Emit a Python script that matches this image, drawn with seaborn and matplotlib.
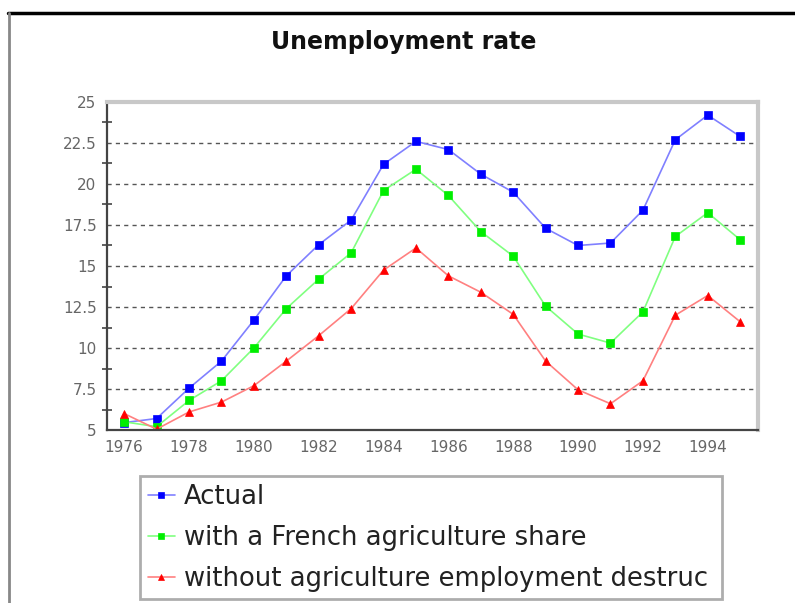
import pandas as pd
import seaborn as sns
import matplotlib.pyplot as plt
from matplotlib.lines import Line2D

# data
years = list(range(1976, 1996))
actual = [5.45, 5.7, 7.55, 9.2, 11.7, 14.4, 16.3, 17.8, 21.2, 22.6,
          22.1, 20.6, 19.5, 17.3, 16.25, 16.4, 18.4, 22.7, 24.2, 22.9]
french_share = [5.5, 5.2, 6.8, 8.0, 10.0, 12.4, 14.2, 15.8, 19.6, 20.9,
                19.3, 17.1, 15.6, 12.55, 10.85, 10.3, 12.2, 16.8, 18.25, 16.6]
no_destruction = [6.0, 5.05, 6.1, 6.7, 7.7, 9.2, 10.75, 12.4, 14.75, 16.1,
                  14.4, 13.4, 12.05, 9.2, 7.45, 6.6, 8.0, 12.0, 13.2, 11.6]
labels = ["Actual", "with a French agriculture share",
          "without agriculture employment destruc"]
yticks = [5, 7.5, 10, 12.5, 15, 17.5, 20, 22.5, 25]
ytick_labels = ["5", "7.5", "10", "12.5", "15", "17.5", "20", "22.5", "25"]
series = [actual, french_share, no_destruction]

line_colors = ["#8080ff", "#80ff80", "#ff8080"]
marker_colors = ["#0000ff", "#00ee00", "#ff0000"]
markers = ["s", "s", "^"]

sns.set_theme(style="white")
plt.rcParams["font.family"] = ["DejaVu Sans"]

fig = plt.figure(figsize=(7.95, 6.03), dpi=100)
fig.patch.set_facecolor("white")
ax = fig.add_axes([107/795, 1-430/603, 651/795, 328/603])

for vals, lab, lc, mc, mk in zip(series, labels, line_colors, marker_colors, markers):
  sns.lineplot(x=years, y=vals, ax=ax, color=lc, lw=1.2, label=lab,
               marker=mk, markersize=5.8, markerfacecolor=mc,
               markeredgecolor=mc, markeredgewidth=0.5)
if ax.get_legend() is not None:
  ax.get_legend().remove()

ax.set_xlim(1975.47, 1995.55)
ax.set_ylim(5, 25)
ax.set_xticks(years)
ax.set_xticklabels([str(y) if y % 2 == 0 else "" for y in years])
ax.set_yticks(yticks)
ax.set_yticklabels(ytick_labels)
ax.set_yticks([y + 1.25 for y in yticks[:-1]], minor=True)
ax.tick_params(axis="both", which="major", direction="inout", length=9, width=1.2,
               color="#444444", labelcolor="#666666", labelsize=11, pad=3)
ax.tick_params(axis="y", which="minor", direction="inout", length=7, width=1.2,
               color="#444444", left=True)
ax.set_xlabel("")
ax.set_ylabel("")
ax.yaxis.grid(True, which="major", linestyle=(0, (3, 3)), color="#555555", lw=1)
ax.set_axisbelow(True)
for s in ["left", "bottom"]:
  ax.spines[s].set_color("#444444")
  ax.spines[s].set_linewidth(1.6)
for s in ["top", "right"]:
  ax.spines[s].set_color("#c8c8c8")
  ax.spines[s].set_linewidth(3)

fig.text(404/795, 1-42/603, "Unemployment rate", ha="center", va="center",
         fontsize=17, fontweight="bold", color="#111111")

# legend below the plot
handles, labs = ax.get_legend_handles_labels()
leg = fig.legend(handles, labs, loc="upper left",
                 bbox_to_anchor=(140/795, 6/603, 582/795, (597-476)/603),
                 mode="expand", borderaxespad=0, fontsize=18.6,
                 handlelength=1.05, handletextpad=0.35, labelspacing=0.58,
                 borderpad=0.3, fancybox=False, frameon=True)
leg.get_frame().set_edgecolor("#999999")
leg.get_frame().set_linewidth(2)
for t in leg.get_texts():
  t.set_color("#222222")
for h in leg.legend_handles:
  h.set_markersize(5)

# the outer frame of the screenshot
fig.add_artist(Line2D([8/795, 1], [1-13/603, 1-13/603], color="black", lw=2.5,
                      transform=fig.transFigure))
fig.add_artist(Line2D([9/795, 9/795], [0, 1-13/603], color="#888888", lw=2,
                      transform=fig.transFigure))

fig.savefig("out.png", dpi=100)
